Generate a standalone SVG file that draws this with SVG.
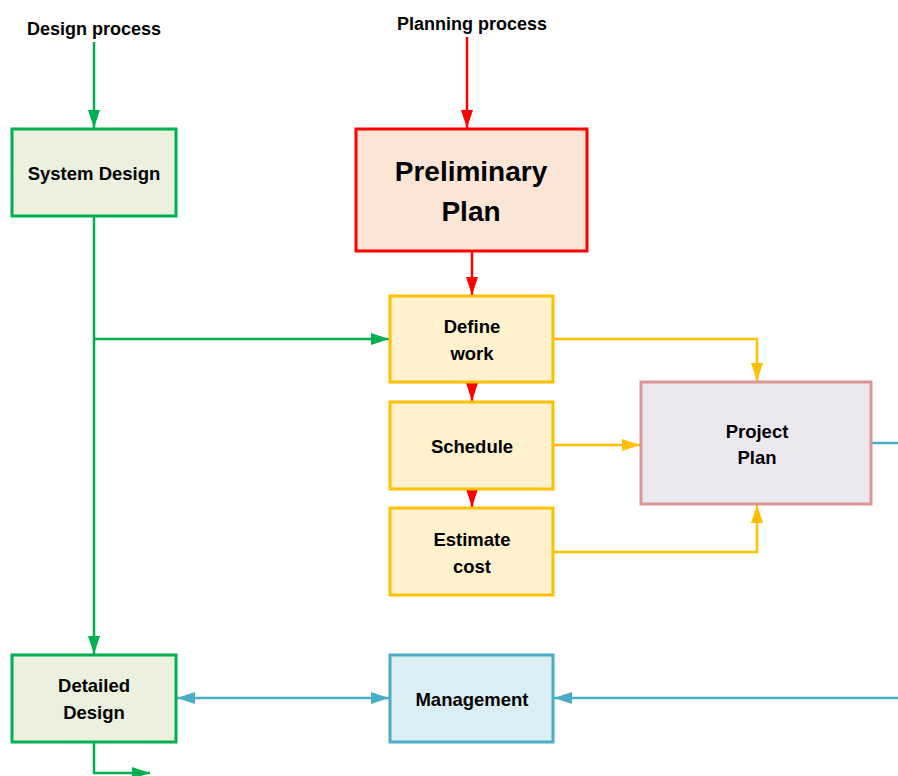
<svg xmlns="http://www.w3.org/2000/svg" width="898" height="776" viewBox="0 0 898 776">
<style>
text{font-family:"Liberation Sans",Arial,sans-serif;font-weight:bold;fill:#000;text-anchor:middle}
.t{font-size:18.5px}
.big{font-size:28px}
.lbl{font-size:18px}
.g{stroke:#00B050}
.r{stroke:#FF0000}
.y{stroke:#FFC000}
.b{stroke:#4BACC6}
.c{fill:none;stroke-width:2.5}
.box{stroke-width:3}
</style>
<defs>
<marker id="ag" markerUnits="userSpaceOnUse" markerWidth="18" markerHeight="12" refX="18" refY="6" orient="auto-start-reverse"><path d="M0,0L18,6L0,12z" fill="#00B050"/></marker>
<marker id="ar" markerUnits="userSpaceOnUse" markerWidth="18" markerHeight="12" refX="18" refY="6" orient="auto-start-reverse"><path d="M0,0L18,6L0,12z" fill="#FF0000"/></marker>
<marker id="ay" markerUnits="userSpaceOnUse" markerWidth="18" markerHeight="12" refX="18" refY="6" orient="auto-start-reverse"><path d="M0,0L18,6L0,12z" fill="#FFC000"/></marker>
<marker id="ab" markerUnits="userSpaceOnUse" markerWidth="18" markerHeight="12" refX="18" refY="6" orient="auto-start-reverse"><path d="M0,0L18,6L0,12z" fill="#4BACC6"/></marker>
</defs>
<g id="connectors">
<path class="c g" d="M94,42V128" marker-end="url(#ag)"/>
<path class="c r" d="M467,37V128" marker-end="url(#ar)"/>
<path class="c g" d="M94,216V654" marker-end="url(#ag)"/>
<path class="c g" d="M94,339H389" marker-end="url(#ag)"/>
<path class="c r" d="M472,251V295" marker-end="url(#ar)"/>
<path class="c r" d="M472,383V401" marker-end="url(#ar)"/>
<path class="c r" d="M472,489V507" marker-end="url(#ar)"/>
<path class="c y" d="M553,339H757V381" marker-end="url(#ay)"/>
<path class="c y" d="M553,445H640" marker-end="url(#ay)"/>
<path class="c y" d="M553,552H757V505" marker-end="url(#ay)"/>
<path class="c b" d="M871,443H898"/>
<path class="c b" d="M177,698H389" marker-start="url(#ab)" marker-end="url(#ab)"/>
<path class="c b" d="M898,698H554" marker-end="url(#ab)"/>
<path class="c g" d="M94,742V773H150" marker-end="url(#ag)"/>
</g>
<g id="design-process"><text class="lbl" x="94" y="35">Design process</text></g>
<g id="planning-process"><text class="lbl" x="472" y="30">Planning process</text></g>
<g id="system-design">
<rect class="box g" x="12" y="129" width="164" height="87" fill="#EBF1DE"/>
<text class="t" x="94" y="180">System Design</text>
</g>
<g id="preliminary-plan">
<rect class="box r" x="356" y="129" width="231" height="122" fill="#FBE5D6"/>
<text class="big" x="471" y="181">Preliminary</text>
<text class="big" x="471" y="221">Plan</text>
</g>
<g id="define-work">
<rect class="box y" x="390" y="296" width="163" height="86" fill="#FFF2CC"/>
<text class="t" x="472" y="333">Define</text>
<text class="t" x="472" y="360">work</text>
</g>
<g id="schedule">
<rect class="box y" x="390" y="402" width="163" height="87" fill="#FFF2CC"/>
<text class="t" x="472" y="453">Schedule</text>
</g>
<g id="estimate-cost">
<rect class="box y" x="390" y="508" width="163" height="87" fill="#FFF2CC"/>
<text class="t" x="472" y="546">Estimate</text>
<text class="t" x="472" y="573">cost</text>
</g>
<g id="project-plan">
<rect class="box" x="641" y="382" width="230" height="122" fill="#ECE8F0" stroke="#D99694"/>
<text class="t" x="757" y="438">Project</text>
<text class="t" x="757" y="464">Plan</text>
</g>
<g id="detailed-design">
<rect class="box g" x="12" y="655" width="164" height="87" fill="#EBF1DE"/>
<text class="t" x="94" y="692">Detailed</text>
<text class="t" x="94" y="719">Design</text>
</g>
<g id="management">
<rect class="box b" x="390" y="655" width="163" height="87" fill="#DAEEF3"/>
<text class="t" x="472" y="706">Management</text>
</g>
</svg>
